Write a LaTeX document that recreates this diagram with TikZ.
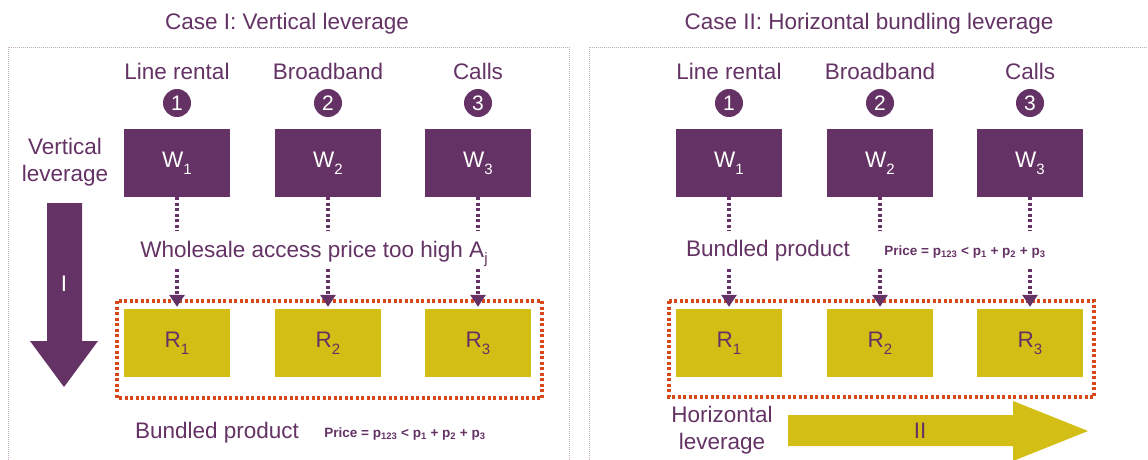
\documentclass[tikz,border=0pt]{standalone}
\usepackage{fontspec}
\setmainfont{Liberation Sans}
\usetikzlibrary{arrows.meta}
\definecolor{pur}{RGB}{100,50,100}
\definecolor{oli}{RGB}{210,190,20}
\definecolor{redo}{RGB}{216,72,24}
\definecolor{frm}{RGB}{190,170,190}
\newcommand{\lowsub}[1]{\raisebox{-0.3em}{\fontsize{15}{15}\selectfont #1}}
\tikzset{
  txt/.style={font=\fontsize{22.5}{27}\selectfont, text=pur, inner sep=0pt, align=center},
  small/.style={font=\fontsize{13.5}{16}\selectfont\bfseries, text=pur, inner sep=0pt},
  wbox/.style={fill=pur, minimum width=106pt, minimum height=68pt, inner sep=0pt, text=white, font=\fontsize{22.5}{27}\selectfont},
  rbox/.style={fill=oli, minimum width=106pt, minimum height=68pt, inner sep=0pt, text=pur, font=\fontsize{22.5}{27}\selectfont},
  num/.style={circle, fill=pur, minimum size=28pt, inner sep=0pt, text=white, font=\fontsize{21}{24}\selectfont},
  conn/.style={draw=pur, line width=3.5pt, dash pattern=on 3pt off 2.5pt},
  connarr/.style={conn, shorten >=2pt, -{Triangle[width=15pt,length=12pt]}},
  bundlebox/.style={draw=redo, line width=3.5pt, dash pattern=on 3pt off 2.5pt},
  framebox/.style={draw=frm, line width=0.8pt, dash pattern=on 1pt off 1pt}
}
\begin{document}
\begin{tikzpicture}[x=1pt,y=-1pt]
\useasboundingbox (0,0) rectangle (1148,460);
% frames
\draw[framebox] (8,460) -- (8,47) -- (569,47) -- (569,460);
\draw[framebox] (589,460) -- (589,47) -- (1148,47);
% titles
\node[txt] (t1) at (287,24) {Case I: Vertical leverage};
\node[txt] (t2) at (869,24) {Case II: Horizontal bundling leverage};
% bundle boxes (behind connectors)
\draw[bundlebox] (117,301) rectangle (542,398);
\draw[bundlebox] (669,301) rectangle (1094,397);

% ---------- Left panel ----------
\foreach \i/\x/\lab in {1/177/Line rental,2/328/Broadband,3/478/Calls}{
  \node[txt] (lab\i) at (\x,71) {\lab};
  \node[num] (n\i) at (\x,103) {\i};
  \node[wbox] (w\i) at (\x,163) {W\lowsub{\i}};
  \node[rbox] (r\i) at (\x,343) {R\lowsub{\i}};
  \coordinate (a\i) at (\x,231);
  \coordinate (b\i) at (\x,269);
  \draw[conn] (w\i.south) -- (a\i);
  \draw[connarr] (b\i) -- (r\i.north);
}
\node[txt] (vl) at (65,162) {Vertical\\leverage};
\fill[pur] (47,203) -- (82,203) -- (82,341) -- (98,341) -- (64,387) -- (30,341) -- (47,341) -- cycle;
\node[txt, text=white] (arrI) at (64,284) {I};
\node[txt] (whs) at (314,254) {Wholesale access price too high A\lowsub{j}};
\node[txt] (bp1) at (217,433) {Bundled product};
\node[small] (pr1) at (405,434) {Price = p\textsubscript{123} < p\textsubscript{1} + p\textsubscript{2} + p\textsubscript{3}};

% ---------- Right panel ----------
\foreach \i/\x/\lab in {1/729/Line rental,2/880/Broadband,3/1030/Calls}{
  \node[txt] (rlab\i) at (\x,71) {\lab};
  \node[num] (rn\i) at (\x,103) {\i};
  \node[wbox] (rw\i) at (\x,163) {W\lowsub{\i}};
  \node[rbox] (rr\i) at (\x,343) {R\lowsub{\i}};
  \coordinate (ra\i) at (\x,231);
  \coordinate (rb\i) at (\x,269);
  \draw[conn] (rw\i.south) -- (ra\i);
  \draw[connarr] (rb\i) -- (rr\i.north);
}
\node[txt] (bp2) at (768,251) {Bundled product};
\node[small] (pr2) at (965,252) {Price = p\textsubscript{123} < p\textsubscript{1} + p\textsubscript{2} + p\textsubscript{3}};
\node[txt] (hl) at (722,430) {Horizontal\\leverage};
\fill[oli] (788,415) -- (1013,415) -- (1013,401) -- (1088,431) -- (1013,461) -- (1013,446) -- (788,446) -- cycle;
\node[txt] (arrII) at (920,431) {II};
\end{tikzpicture}
\end{document}
